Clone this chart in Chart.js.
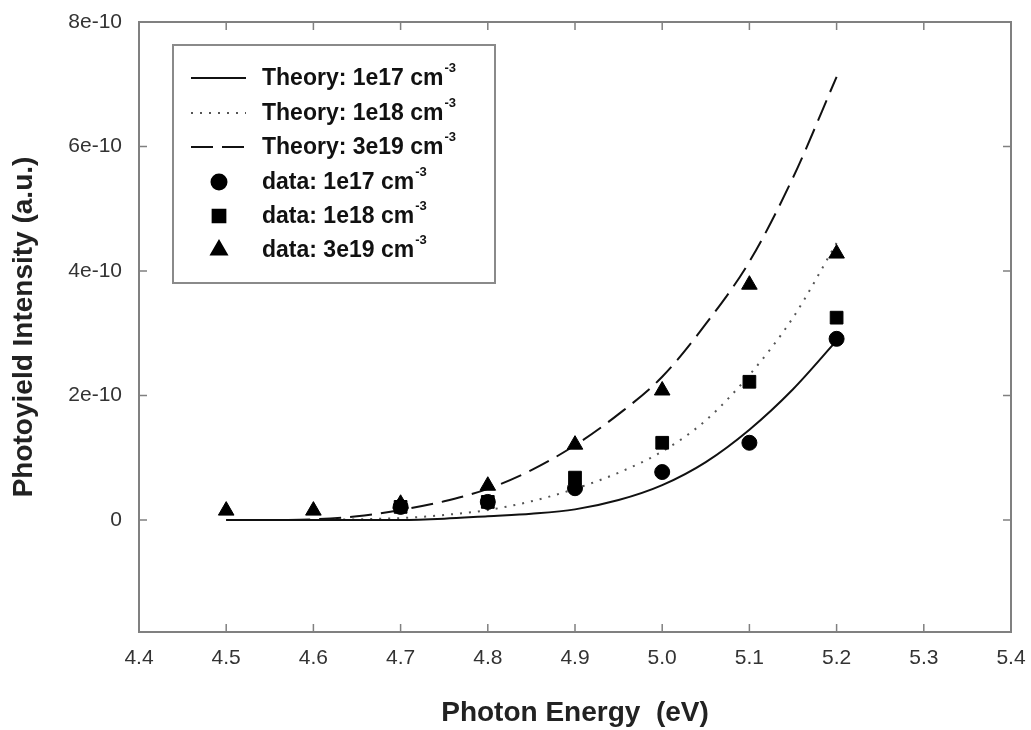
<!DOCTYPE html>
<html lang="en">
<head>
    <meta charset="UTF-8">
    <title>Photoyield Intensity</title>
    <script src="https://cdn.jsdelivr.net/npm/chart.js"></script>
    <style>
        body {
            margin: 0;
            background: #ffffff;
        }

        .chart-box {
            width: 1031px;
            height: 730px;
        }
    </style>
</head>
<body>
    <div class="chart-box">
        <canvas id="photoChart"></canvas>
    </div>

<script>
    // intensities are in units of 1e-10 (a.u.)
    const theoryEnergy = [4.5, 4.55, 4.6, 4.65, 4.7, 4.75, 4.8, 4.85, 4.9, 4.95, 5.0, 5.05, 5.1, 5.15, 5.2];
    const theory1e17 = [0, 0, 0, 0, 0, 0.02, 0.06, 0.1, 0.17, 0.32, 0.56, 0.93, 1.45, 2.1, 2.88];
    const theory1e18 = [0, 0, 0, 0.01, 0.03, 0.08, 0.16, 0.3, 0.5, 0.76, 1.1, 1.6, 2.33, 3.25, 4.45];
    const theory3e19 = [0, 0, 0.01, 0.06, 0.16, 0.3, 0.5, 0.8, 1.2, 1.7, 2.3, 3.15, 4.15, 5.5, 7.12];

    const dataEnergy = [4.7, 4.8, 4.9, 5.0, 5.1, 5.2];
    const data1e17 = [0.21, 0.29, 0.51, 0.77, 1.24, 2.91];
    const data1e18 = [0.21, 0.29, 0.68, 1.24, 2.22, 3.25];
    const dataEnergy3e19 = [4.5, 4.6, 4.7, 4.8, 4.9, 5.0, 5.1, 5.2];
    const data3e19 = [0.15, 0.15, 0.26, 0.55, 1.21, 2.08, 3.78, 4.28];

    const xTicks = [4.4, 4.5, 4.6, 4.7, 4.8, 4.9, 5.0, 5.1, 5.2, 5.3, 5.4];
    const yTicks = [0, 2, 4, 6, 8];

    const legendLabels = ['Theory: 1e17 cm', 'Theory: 1e18 cm', 'Theory: 3e19 cm',
                          'data: 1e17 cm', 'data: 1e18 cm', 'data: 3e19 cm'];
    const legendSup = '-3';

    function pairs(xs, ys) {
        return xs.map((x, i) => ({ x: x, y: ys[i] }));
    }

    let FONT = "'Liberation Sans', Arial, sans-serif";

    // frame, inward tick marks and the boxed legend
    const framePlugin = {
        id: 'frame',
        afterDraw(chart) {
            let ctx = chart.ctx;
            let a = chart.chartArea;
            let xs = chart.scales.x, ys = chart.scales.y;
            ctx.save();
            ctx.strokeStyle = '#808080';
            ctx.lineWidth = 1.5;
            ctx.beginPath();
            xTicks.forEach(v => {
                if (v <= 4.4 || v >= 5.4) return;
                let px = xs.getPixelForValue(v);
                ctx.moveTo(px, a.bottom); ctx.lineTo(px, a.bottom - 8);
                ctx.moveTo(px, a.top); ctx.lineTo(px, a.top + 8);
            });
            yTicks.forEach(v => {
                if (v >= 8) return;
                let py = ys.getPixelForValue(v);
                ctx.moveTo(a.left, py); ctx.lineTo(a.left + 8, py);
                ctx.moveTo(a.right, py); ctx.lineTo(a.right - 8, py);
            });
            ctx.stroke();
            ctx.lineWidth = 2;
            ctx.strokeRect(a.left, a.top, a.right - a.left, a.bottom - a.top);

            // legend box
            let bx = 173, by = 45, bw = 322, bh = 238;
            ctx.fillStyle = '#ffffff';
            ctx.fillRect(bx, by, bw, bh);
            ctx.strokeStyle = '#8a8a8a';
            ctx.lineWidth = 2;
            ctx.strokeRect(bx, by, bw, bh);

            let rows = [78, 113, 147, 182, 216, 250];
            chart.data.datasets.forEach((ds, i) => {
                let ry = rows[i];
                if (ds.showLine) {
                    ctx.strokeStyle = ds.borderColor;
                    ctx.lineWidth = ds.borderWidth;
                    ctx.setLineDash(ds.borderDash || []);
                    ctx.beginPath();
                    ctx.moveTo(191, ry);
                    ctx.lineTo(246, ry);
                    ctx.stroke();
                    ctx.setLineDash([]);
                } else {
                    ctx.fillStyle = '#000000';
                    ctx.strokeStyle = '#000000';
                    Chart.helpers.drawPoint(ctx, {
                        pointStyle: ds.pointStyle,
                        radius: ds.pointRadius,
                        rotation: 0,
                        borderWidth: 1
                    }, 219, ry);
                }
                ctx.fillStyle = '#111111';
                ctx.font = 'bold 23px ' + FONT;
                ctx.textBaseline = 'middle';
                ctx.textAlign = 'left';
                let tx = 262;
                ctx.fillText(legendLabels[i], tx, ry + 1);
                let w = ctx.measureText(legendLabels[i]).width;
                ctx.font = 'bold 13px ' + FONT;
                ctx.fillText(legendSup, tx + w + 1, ry - 10);
            });
            ctx.restore();
        }
    };

    const lineStyle = {
        showLine: true,
        borderColor: '#111111',
        borderWidth: 2,
        pointRadius: 0,
        cubicInterpolationMode: 'monotone',
        order: 2
    };

    const markStyle = {
        showLine: false,
        backgroundColor: '#000000',
        borderColor: '#000000',
        borderWidth: 1,
        order: 1
    };

    let ctx = document.getElementById('photoChart').getContext('2d');
    new Chart(ctx, {
        type: 'scatter',
        data: {
            datasets: [
                { ...lineStyle, label: legendLabels[0], data: pairs(theoryEnergy, theory1e17) },
                { ...lineStyle, label: legendLabels[1], data: pairs(theoryEnergy, theory1e18), borderColor: '#555555', borderDash: [2, 7] },
                { ...lineStyle, label: legendLabels[2], data: pairs(theoryEnergy, theory3e19), borderDash: [22, 9] },
                { ...markStyle, label: legendLabels[3], data: pairs(dataEnergy, data1e17), pointStyle: 'circle', pointRadius: 7.5 },
                { ...markStyle, label: legendLabels[4], data: pairs(dataEnergy, data1e18), pointStyle: 'rect', pointRadius: 9 },
                { ...markStyle, label: legendLabels[5], data: pairs(dataEnergy3e19, data3e19), pointStyle: 'triangle', pointRadius: 9 }
            ]
        },
        options: {
            responsive: true,
            maintainAspectRatio: false,
            animation: false,
            layout: { padding: { top: 22, right: 20, left: 0, bottom: 0 } },
            plugins: {
                legend: { display: false },
                tooltip: { enabled: false }
            },
            scales: {
                x: {
                    type: 'linear',
                    min: 4.4,
                    max: 5.4,
                    afterFit: s => {
                        s.height = 98;
                        s.paddingLeft = 0;
                        s.paddingRight = 0;
                    },
                    afterBuildTicks: s => { s.ticks = xTicks.map(v => ({ value: v })); },
                    grid: { display: false, drawTicks: false },
                    border: { display: false },
                    ticks: {
                        padding: 14,
                        color: '#333333',
                        font: { family: FONT, size: 21 },
                        maxRotation: 0,
                        callback: v => v.toFixed(1)
                    },
                    title: {
                        display: true,
                        text: 'Photon Energy  (eV)',
                        color: '#222222',
                        font: { family: FONT, size: 28, weight: 'bold' },
                        padding: { top: 0, bottom: 0 }
                    }
                },
                y: {
                    type: 'linear',
                    min: -1.8,
                    max: 8,
                    afterFit: s => {
                        s.width = 139;
                        s.paddingTop = 0;
                        s.paddingBottom = 0;
                    },
                    afterBuildTicks: s => { s.ticks = yTicks.map(v => ({ value: v })); },
                    grid: { display: false, drawTicks: false },
                    border: { display: false },
                    ticks: {
                        padding: 17,
                        color: '#333333',
                        font: { family: FONT, size: 21 },
                        callback: v => v === 0 ? '0' : v + 'e-10'
                    },
                    title: {
                        display: true,
                        text: 'Photoyield Intensity (a.u.)',
                        color: '#222222',
                        font: { family: FONT, size: 28, weight: 'bold' },
                        padding: { top: 7, bottom: 0 }
                    }
                }
            }
        },
        plugins: [framePlugin]
    });
</script>
</body>
</html>
